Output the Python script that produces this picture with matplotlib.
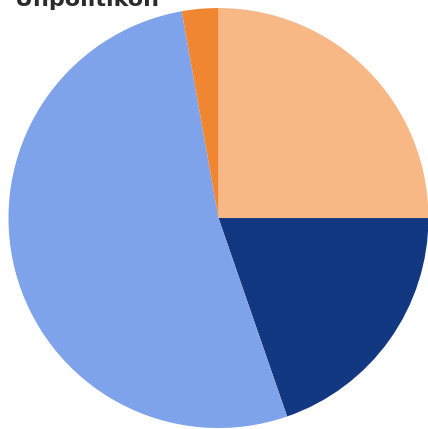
import matplotlib.pyplot as plt

labels = ["A", "B", "C", "D"]
values = [25.0, 19.7, 52.5, 2.8]
colors = ["#F7B886", "#133882", "#7FA3EA", "#F08632"]
title = "Unpolitikon"

fig = plt.figure(figsize=(4.28, 4.29), dpi=100)
ax = fig.add_axes([0.0198, 0.0023, 0.9813, 0.979])
ax.pie(values, colors=colors, startangle=90, counterclock=False,
       wedgeprops=dict(linewidth=0))
ax.set_xlim(-1, 1)
ax.set_ylim(-1, 1)
ax.set_aspect("equal")
ax.axis("off")

# title is partly clipped at the top edge, as in the reference
fig.text(0.035, 0.986, title, fontsize=16, fontweight="bold", color="#2b2b2b",
         ha="left", va="baseline")

fig.savefig("out.png", dpi=100)
